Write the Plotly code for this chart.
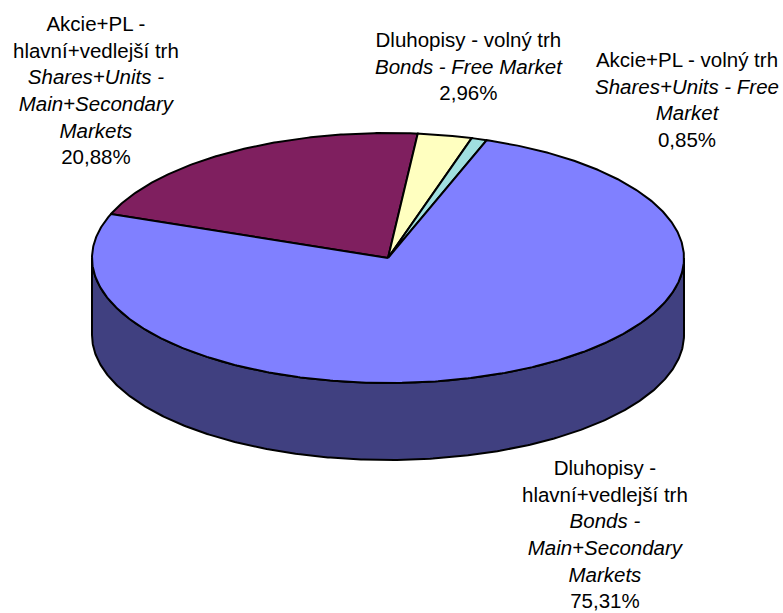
import numpy as np
import plotly.graph_objects as go

# ---- data ----
labels_cz = ["Akcie+PL -<br>hlavní+vedlejší trh", "Dluhopisy - volný trh",
             "Akcie+PL - volný trh", "Dluhopisy -<br>hlavní+vedlejší trh"]
labels_en = ["Shares+Units -<br>Main+Secondary<br>Markets", "Bonds - Free Market",
             "Shares+Units - Free<br>Market", "Bonds -<br>Main+Secondary<br>Markets"]
values = [20.88, 2.96, 0.85, 75.31]
pct_text = ["20,88%", "2,96%", "0,85%", "75,31%"]

# ---- style / layout ----
top_colors = ["#7F1F5F", "#FFFFC0", "#A0E0E0", "#8080FF"]
side_colors = ["#40102F", "#808060", "#507070", "#404080"]
label_pos = [(96, 90), (469, 66), (687, 99), (605, 534)]
W, H = 783, 613
cx, cy, rx, ry, depth = 388, 258, 296, 125, 77
start_angle = -69.4

def pt(t, dy=0.0):
    r = np.radians(t)
    return cx + rx * np.sin(r), cy - ry * np.cos(r) + dy

def arc(a, b, dy=0.0):
    n = max(int(abs(b - a) * 2) + 2, 3)
    ts = np.linspace(a, b, n)
    xs, ys = pt(ts, dy)
    return list(xs), list(ys)

total = sum(values)
bounds = []
acc = start_angle
for v in values:
    a0 = acc
    a1 = acc + v / total * 360.0
    bounds.append((a0, a1))
    acc = a1

fig = go.Figure()

# side walls (visible front half)
for i, (a0, a1) in enumerate(bounds):
    for off in (-360, 0, 360):
        lo = max(a0 + off, 90)
        hi = min(a1 + off, 270)
        if hi > lo:
            tx, ty = arc(lo, hi)
            bx, by = arc(hi, lo, depth)
            fig.add_trace(go.Scatter(x=tx + bx + [tx[0]], y=ty + by + [ty[0]],
                                     mode="lines", fill="toself",
                                     fillcolor=side_colors[i],
                                     line=dict(color="black", width=2),
                                     hoverinfo="skip", showlegend=False))

# top faces
for i, (a0, a1) in enumerate(bounds):
    ax, ay = arc(a0, a1)
    xs = [cx] + ax + [cx]
    ys = [cy] + ay + [cy]
    fig.add_trace(go.Scatter(x=xs, y=ys, mode="lines", fill="toself",
                             fillcolor=top_colors[i],
                             line=dict(color="black", width=2),
                             hoverinfo="skip", showlegend=False))

for i in range(len(values)):
    x, y = label_pos[i]
    txt = f"{labels_cz[i]}<br><i>{labels_en[i]}</i><br>{pct_text[i]}"
    fig.add_annotation(x=x, y=y, xref="x", yref="y", text=txt, showarrow=False,
                       xanchor="center", yanchor="middle", align="center",
                       font=dict(family="Arial, Liberation Sans, sans-serif",
                                 size=20.5, color="black"))

fig.update_layout(width=W, height=H, autosize=False,
                  margin=dict(l=0, r=0, t=0, b=0),
                  paper_bgcolor="white", plot_bgcolor="white",
                  xaxis=dict(range=[0, W], visible=False, fixedrange=True),
                  yaxis=dict(range=[H, 0], visible=False, fixedrange=True))

fig.write_html("out.html", config={"displayModeBar": False},
               post_script="document.body.style.margin='0px';document.body.style.overflow='hidden';")
